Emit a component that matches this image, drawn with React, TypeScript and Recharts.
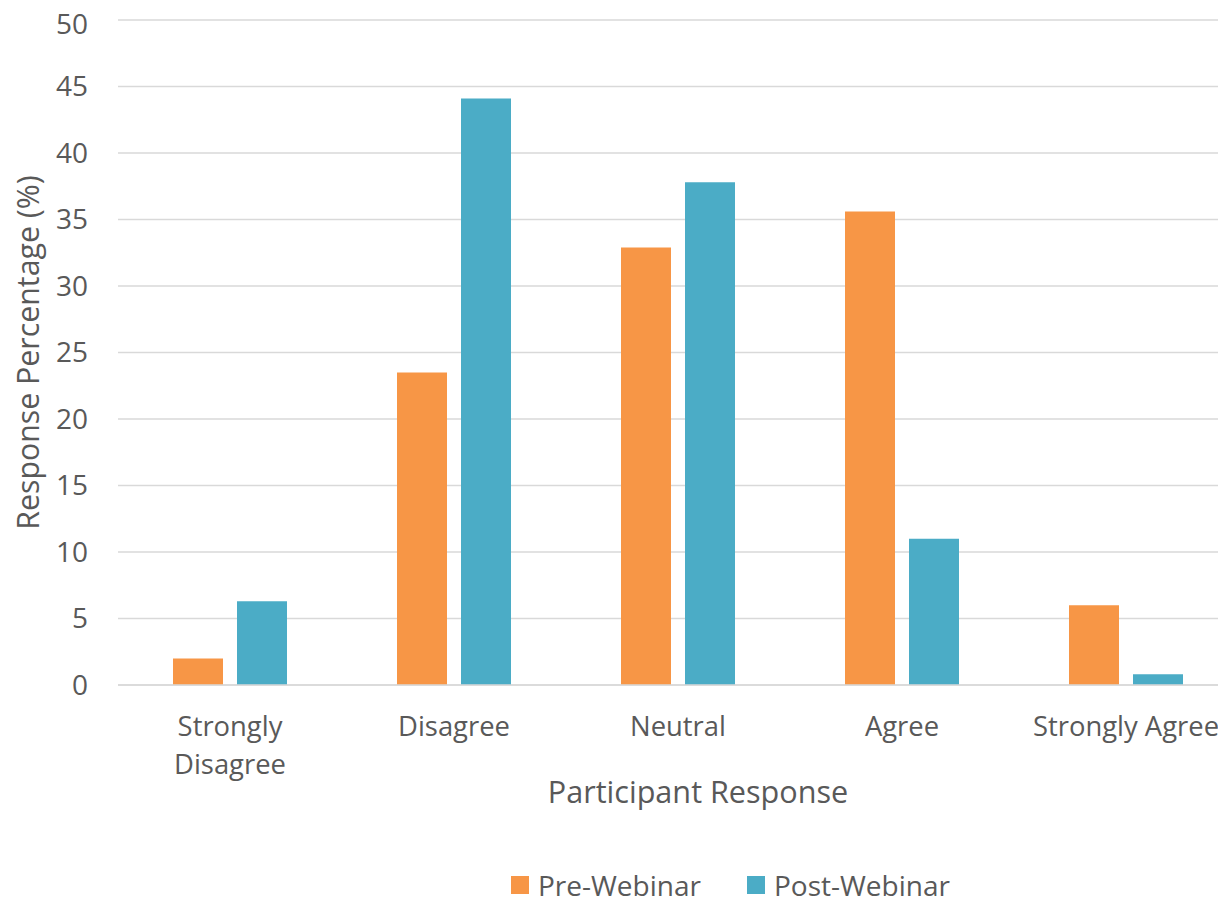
import React from "react";
import { BarChart, Bar, XAxis, YAxis, CartesianGrid, Legend } from "recharts";

const categories = ["Strongly Disagree", "Disagree", "Neutral", "Agree", "Strongly Agree"];
const categoryLines = [["Strongly", "Disagree"], ["Disagree"], ["Neutral"], ["Agree"], ["Strongly Agree"]];
const preWebinar = [2.0, 23.5, 32.9, 35.6, 6.0];
const postWebinar = [6.3, 44.1, 37.8, 11.0, 0.8];
const yTicks = [0, 5, 10, 15, 20, 25, 30, 35, 40, 45, 50];
const seriesNames = ["Pre-Webinar", "Post-Webinar"];
const seriesColors = ["#F79646", "#4BACC6"];

const data = categories.map((c, i) => ({
  category: c,
  pre: preWebinar[i],
  post: postWebinar[i],
}));

const FONT = "'Open Sans', 'Noto Sans', sans-serif";
const TEXT = "#595959";

const XTick = (props: any) => {
  const { x, y, index } = props;
  const lines = categoryLines[index] || [String(props.payload.value)];
  return (
    <text x={x} y={y + 51} textAnchor="middle" fill={TEXT} fontSize={27.4} fontFamily={FONT}>
      {lines.map((l: string, i: number) => (
        <tspan key={i} x={x} dy={i === 0 ? 0 : 38}>
          {l}
        </tspan>
      ))}
    </text>
  );
};

const XTitle = (props: any) => {
  const vb = props.viewBox;
  return (
    <text x={vb.x + vb.width / 2 + 20} y={vb.y + 118} textAnchor="middle" fill={TEXT} fontSize={30.6} fontFamily={FONT}>
      Participant Response
    </text>
  );
};

const YTitle = (props: any) => {
  const vb = props.viewBox;
  const cx = 31;
  const cy = vb.y + vb.height / 2;
  return (
    <text x={cx} y={cy} transform={`rotate(-90, ${cx}, ${cy})`} textAnchor="middle" fill={TEXT} fontSize={30.3} fontFamily={FONT}>
      Response Percentage (%)
    </text>
  );
};

const LegendContent = () => (
  <div style={{ display: "flex", alignItems: "center", height: 24, paddingLeft: 503, fontFamily: FONT, fontSize: 28, color: TEXT }}>
    {seriesNames.map((n, i) => (
      <div key={n} style={{ display: "flex", alignItems: "center", marginRight: 46 }}>
        <div style={{ width: 18, height: 18, background: seriesColors[i], marginRight: 9 }} />
        <span style={{ lineHeight: "24px", whiteSpace: "nowrap" }}>{n}</span>
      </div>
    ))}
  </div>
);

export default function App() {
  return (
    <div style={{ width: 1218, height: 889, overflow: "hidden", background: "#fff" }}>
      <BarChart
        width={1230}
        height={889}
        data={data}
        margin={{ top: 12, right: 0, left: 0, bottom: 0 }}
        barGap={14}
        barSize={50}
      >
        <CartesianGrid vertical={false} stroke="#d9d9d9" strokeWidth={1.4} />
        <XAxis
          dataKey="category"
          height={188}
          tickLine={false}
          tickSize={0}
          tickMargin={0}
          axisLine={{ stroke: "#d9d9d9", strokeWidth: 1.4 }}
          tick={<XTick />}
          interval={0}
          label={<XTitle />}
        />
        <YAxis
          width={110}
          domain={[0, 50]}
          ticks={yTicks}
          axisLine={false}
          tickLine={false}
          tickSize={0}
          tickMargin={30}
          tick={{ fill: TEXT, fontSize: 28, fontFamily: FONT }}
          label={<YTitle />}
        />
        <Legend verticalAlign="bottom" height={24} width={1230} content={<LegendContent />} wrapperStyle={{ left: 0 }} />
        <Bar dataKey="pre" name={seriesNames[0]} fill={seriesColors[0]} isAnimationActive={false} />
        <Bar dataKey="post" name={seriesNames[1]} fill={seriesColors[1]} isAnimationActive={false} />
      </BarChart>
    </div>
  );
}
